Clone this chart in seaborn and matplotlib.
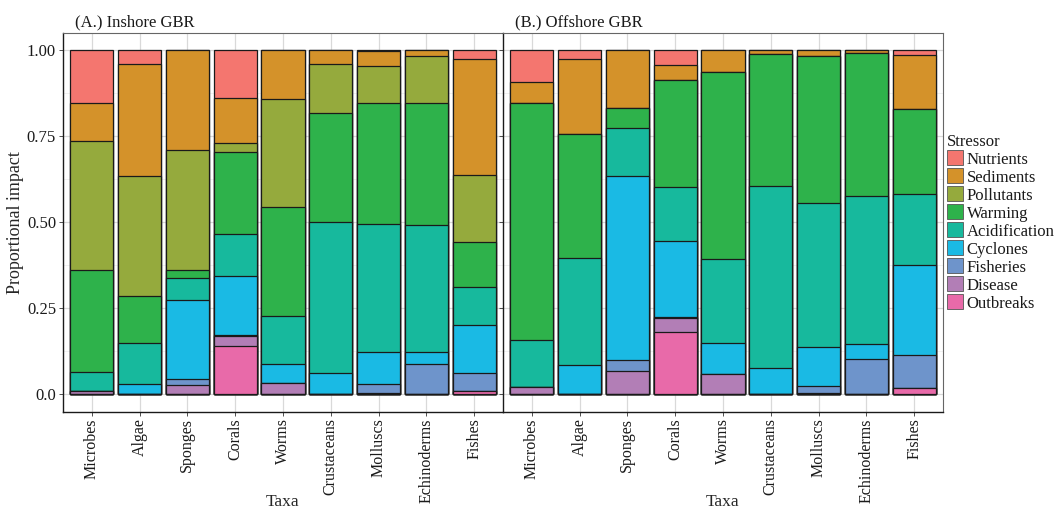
import numpy as np
import pandas as pd
import matplotlib
matplotlib.use("Agg")
import matplotlib.pyplot as plt
from matplotlib.patches import Patch
from matplotlib.ticker import MultipleLocator
import seaborn as sns

# ---- data -------------------------------------------------------------
taxa = ["Microbes", "Algae", "Sponges", "Corals", "Worms",
        "Crustaceans", "Molluscs", "Echinoderms", "Fishes"]
stressors = ["Nutrients", "Sediments", "Pollutants", "Warming", "Acidification",
             "Cyclones", "Fisheries", "Disease", "Outbreaks"]

# proportional impact of each stressor (rows follow `taxa`, columns follow `stressors`)
inshore = [
    [0.153, 0.111, 0.374, 0.296, 0.057, 0.000, 0.000, 0.009, 0.000],
    [0.041, 0.325, 0.349, 0.135, 0.119, 0.031, 0.000, 0.000, 0.000],
    [0.000, 0.289, 0.349, 0.025, 0.062, 0.232, 0.015, 0.028, 0.000],
    [0.139, 0.130, 0.028, 0.238, 0.121, 0.171, 0.003, 0.031, 0.139],
    [0.000, 0.142, 0.315, 0.316, 0.140, 0.053, 0.000, 0.034, 0.000],
    [0.000, 0.039, 0.143, 0.317, 0.438, 0.061, 0.002, 0.000, 0.000],
    [0.003, 0.044, 0.105, 0.354, 0.370, 0.093, 0.026, 0.005, 0.000],
    [0.000, 0.017, 0.136, 0.356, 0.369, 0.033, 0.089, 0.000, 0.000],
    [0.027, 0.337, 0.192, 0.131, 0.111, 0.141, 0.050, 0.002, 0.009],
]
offshore = [
    [0.091, 0.062, 0.000, 0.690, 0.136, 0.000, 0.000, 0.021, 0.000],
    [0.027, 0.217, 0.000, 0.359, 0.313, 0.084, 0.000, 0.000, 0.000],
    [0.000, 0.167, 0.000, 0.058, 0.141, 0.535, 0.032, 0.067, 0.000],
    [0.044, 0.044, 0.000, 0.309, 0.157, 0.220, 0.003, 0.043, 0.180],
    [0.000, 0.062, 0.000, 0.546, 0.243, 0.089, 0.000, 0.060, 0.000],
    [0.000, 0.012, 0.000, 0.384, 0.529, 0.073, 0.002, 0.000, 0.000],
    [0.000, 0.016, 0.000, 0.428, 0.420, 0.112, 0.019, 0.005, 0.000],
    [0.000, 0.007, 0.000, 0.416, 0.432, 0.041, 0.104, 0.000, 0.000],
    [0.014, 0.157, 0.000, 0.246, 0.206, 0.263, 0.096, 0.000, 0.018],
]
panel_titles = ["(A.) Inshore GBR", "(B.) Offshore GBR"]
ytick_vals = [0.0, 0.25, 0.50, 0.75, 1.00]
ytick_text = ["0.0", "0.25", "0.50", "0.75", "1.00"]

colors = ["#F4766F", "#D4922A", "#95AA3D", "#2EB24B", "#17B99D",
          "#1ABAE4", "#6E94CB", "#B27EB6", "#E86AA9"]

# ---- style ------------------------------------------------------------
sns.set_theme(style="white")
plt.rcParams["font.family"] = ["Liberation Serif", "DejaVu Serif"]
plt.rcParams["text.color"] = "#1a1a1a"

W, H = 1058, 512
fig = plt.figure(figsize=(W / 100, H / 100), dpi=100)

def frac_box(x0, y0, x1, y1):
    return [x0 / W, 1 - y1 / H, (x1 - x0) / W, (y1 - y0) / H]

axes = [fig.add_axes(frac_box(63, 33, 503, 411.5)),
        fig.add_axes(frac_box(503, 33, 943, 411.5))]

for k, (ax, table, title) in enumerate(zip(axes, [inshore, offshore], panel_titles)):
    df = pd.DataFrame(table, index=taxa, columns=stressors)
    # cumulative height from the bottom stressor (Outbreaks) upward
    cum = df[stressors[::-1]].cumsum(axis=1)[stressors]
    # draw tallest stack level first so each lower level sits on top of it
    for s, c in zip(stressors, colors):
        sns.barplot(x=taxa, y=cum[s].values, order=taxa, color=c,
                    saturation=1, width=0.9, edgecolor="#1a1a1a",
                    linewidth=0.9, errorbar=None, ax=ax, zorder=3)

    ax.set_xlim(-0.6, len(taxa) - 0.4)
    ax.set_ylim(-0.05, 1.05)
    ax.set_yticks(ytick_vals)
    ax.yaxis.set_minor_locator(MultipleLocator(0.125))
    ax.set_axisbelow(True)
    ax.grid(True, which="major", axis="both", color="#d9d9d9", linewidth=0.9, zorder=0)
    ax.grid(True, which="minor", axis="y", color="#ececec", linewidth=0.5, zorder=0)
    ax.tick_params(axis="both", which="major", length=3, width=0.6,
                   color="#333333", labelsize=12, pad=2, labelcolor="#1a1a1a")
    ax.tick_params(axis="y", which="minor", length=0)
    ax.tick_params(bottom=True, left=True)
    ax.set_xticks(range(len(taxa)))
    ax.set_xticklabels(taxa, rotation=90, fontsize=11.5)
    if k == 0:
        ax.set_yticklabels(ytick_text)
        ax.set_ylabel("Proportional impact", fontsize=13)
        ax.yaxis.set_label_coords(-0.088, 0.5)
    else:
        ax.set_yticklabels([])
        ax.set_ylabel("")
    ax.set_xlabel("Taxa", fontsize=12.5)
    ax.xaxis.set_label_coords(0.5, -0.218)

    for side in ["left", "bottom"]:
        ax.spines[side].set_color("#1a1a1a")
        ax.spines[side].set_linewidth(1.0)
    for side in ["top", "right"]:
        ax.spines[side].set_color("#666666")
        ax.spines[side].set_linewidth(0.8)
    if k == 0:
        ax.spines["right"].set_visible(False)

    ax.text(12 / 440, 1 + 7 / 378.5, title, transform=ax.transAxes,
            ha="left", va="baseline", fontsize=12)

handles = [Patch(facecolor=c, edgecolor="#555555", linewidth=0.6) for c in colors]
fig.legend(handles, stressors, title="Stressor", loc="upper left",
           bbox_to_anchor=(944 / W, 1 - 131 / H), frameon=False,
           fontsize=12, title_fontsize=12, handlelength=1.0, handleheight=1.0,
           handletextpad=0.2, labelspacing=0.05, borderaxespad=0, borderpad=0.15,
           alignment="left")

fig.savefig("out.png", dpi=100)
